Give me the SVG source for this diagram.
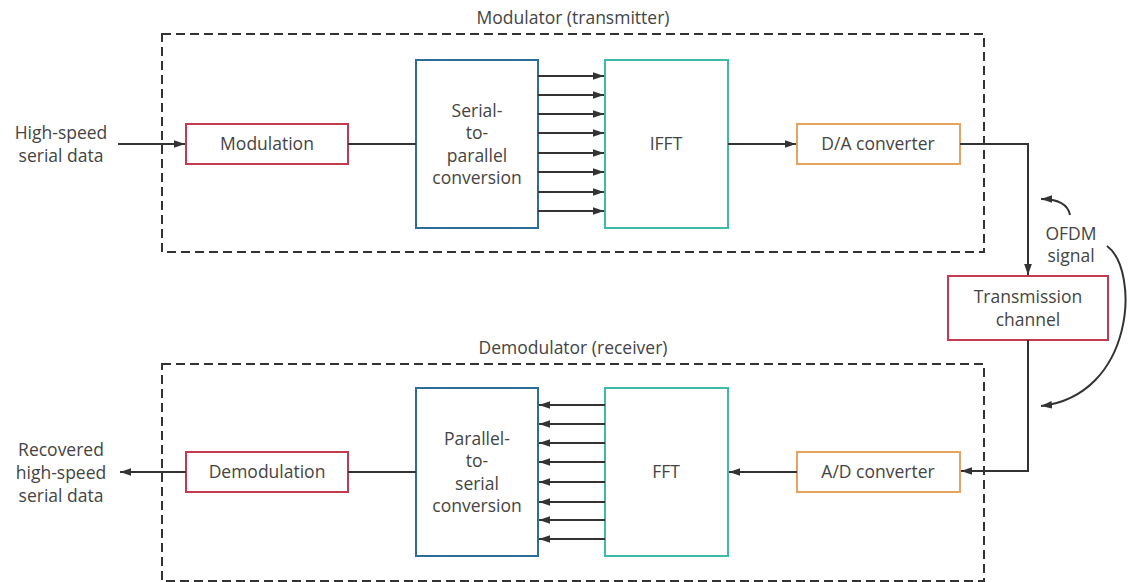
<svg xmlns="http://www.w3.org/2000/svg" width="1128" height="582" viewBox="0 0 1128 582">
<defs>
<marker id="ah" viewBox="0 0 10 10" refX="10" refY="5" markerWidth="11" markerHeight="11" markerUnits="userSpaceOnUse" orient="auto">
<path d="M0,1.5 L10,5 L0,8.5 Z" fill="#333"/>
</marker>
<style>
text{font-family:"Open Sans","Liberation Sans",sans-serif;font-size:17.5px;fill:#444;text-anchor:middle}
.box{fill:#fff;stroke-width:2}
.red{stroke:#c33a4f}
.blue{stroke:#2c6e96}
.teal{stroke:#3fb9a9}
.orange{stroke:#e6a25e}
.dash{fill:none;stroke:#333;stroke-width:2;stroke-dasharray:9 5}
.ln{fill:none;stroke:#333;stroke-width:2}
.ar{fill:none;stroke:#333;stroke-width:2;marker-end:url(#ah)}
</style>
</defs>
<rect width="1128" height="582" fill="#fff"/>
<g id="modulator-group">
<rect class="dash" x="162" y="34" width="822" height="218"/>
<text x="573" y="24">Modulator (transmitter)</text>
</g>
<g id="demodulator-group">
<rect class="dash" x="162" y="364" width="822" height="217"/>
<text x="573" y="354">Demodulator (receiver)</text>
</g>
<g id="input-label">
<text x="61" y="139">High-speed</text>
<text x="61" y="162">serial data</text>
</g>
<g id="output-label">
<text x="61" y="456">Recovered</text>
<text x="61" y="479">high-speed</text>
<text x="61" y="502">serial data</text>
</g>
<g id="modulation">
<rect class="box red" x="186" y="124" width="162" height="40"/>
<text x="267" y="150">Modulation</text>
</g>
<g id="sp">
<rect class="box blue" x="416" y="60" width="122" height="168"/>
<text x="477" y="117">Serial-</text>
<text x="477" y="139">to-</text>
<text x="477" y="162">parallel</text>
<text x="477" y="184">conversion</text>
</g>
<g id="ifft">
<rect class="box teal" x="605" y="60" width="123" height="168"/>
<text x="666" y="150">IFFT</text>
</g>
<g id="da">
<rect class="box orange" x="797" y="124" width="163" height="40"/>
<text x="878" y="150">D/A converter</text>
</g>
<g id="channel">
<rect class="box red" x="948" y="276" width="160" height="64"/>
<text x="1028" y="303">Transmission</text>
<text x="1028" y="326">channel</text>
</g>
<g id="demodulation">
<rect class="box red" x="186" y="452" width="162" height="40"/>
<text x="267" y="478">Demodulation</text>
</g>
<g id="ps">
<rect class="box blue" x="416" y="388" width="122" height="168"/>
<text x="477" y="445">Parallel-</text>
<text x="477" y="467">to-</text>
<text x="477" y="490">serial</text>
<text x="477" y="512">conversion</text>
</g>
<g id="fft">
<rect class="box teal" x="605" y="388" width="123" height="168"/>
<text x="666" y="478">FFT</text>
</g>
<g id="ad">
<rect class="box orange" x="797" y="452" width="163" height="40"/>
<text x="878" y="478">A/D converter</text>
</g>
<g id="ofdm-label">
<text x="1071" y="240">OFDM</text>
<text x="1071" y="262">signal</text>
</g>
<g id="connectors">
<line class="ar" x1="118" y1="144" x2="185" y2="144"/>
<line class="ln" x1="348" y1="144" x2="416" y2="144"/>
<line class="ar" x1="538" y1="76" x2="604" y2="76"/>
<line class="ar" x1="538" y1="95" x2="604" y2="95"/>
<line class="ar" x1="538" y1="114" x2="604" y2="114"/>
<line class="ar" x1="538" y1="133" x2="604" y2="133"/>
<line class="ar" x1="538" y1="153" x2="604" y2="153"/>
<line class="ar" x1="538" y1="172" x2="604" y2="172"/>
<line class="ar" x1="538" y1="192" x2="604" y2="192"/>
<line class="ar" x1="538" y1="211" x2="604" y2="211"/>
<line class="ar" x1="728" y1="144" x2="796" y2="144"/>
<polyline class="ar" points="960,144 1028,144 1028,275"/>
<polyline class="ar" points="1028,340 1028,471 961,471"/>
<line class="ar" x1="797" y1="472" x2="729" y2="472"/>
<line class="ar" x1="605" y1="405" x2="539" y2="405"/>
<line class="ar" x1="605" y1="424" x2="539" y2="424"/>
<line class="ar" x1="605" y1="443" x2="539" y2="443"/>
<line class="ar" x1="605" y1="462" x2="539" y2="462"/>
<line class="ar" x1="605" y1="482" x2="539" y2="482"/>
<line class="ar" x1="605" y1="502" x2="539" y2="502"/>
<line class="ar" x1="605" y1="520" x2="539" y2="520"/>
<line class="ar" x1="605" y1="539" x2="539" y2="539"/>
<line class="ln" x1="416" y1="472" x2="348" y2="472"/>
<line class="ar" x1="186" y1="472" x2="120" y2="472"/>
<path class="ar" d="M1070,215 C1068,205 1060,199 1041,199"/>
<path class="ar" d="M1107,246 C1140,270 1135,395 1041,406"/>
</g>
</svg>
